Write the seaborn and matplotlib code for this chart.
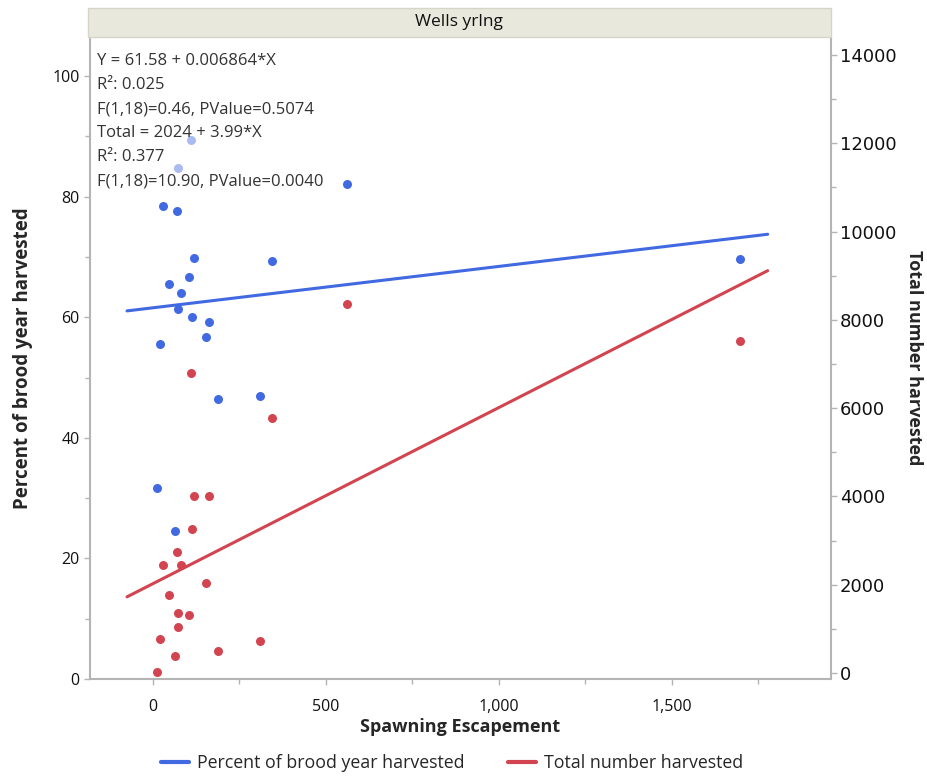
import numpy as np
import pandas as pd
import seaborn as sns
import matplotlib.pyplot as plt
from matplotlib.patches import Rectangle
from matplotlib.lines import Line2D
from matplotlib.ticker import MultipleLocator, FuncFormatter

# data
escapement = [11, 21, 30, 47, 64, 69, 73, 73, 82, 103,
              109, 114, 118, 152, 163, 187, 310, 345, 560, 1697]
pct_harvested = [31.7, 55.6, 78.4, 65.5, 24.5, 77.6, 84.7, 61.4, 64.0, 66.7,
                 89.4, 60.1, 69.8, 56.8, 59.3, 46.5, 46.9, 69.3, 82.1, 69.7]
total_harvested = [29, 770, 2453, 1774, 385, 2748, 1352, 1042, 2446, 1321,
                   6802, 3255, 4016, 2046, 4016, 505, 732, 5776, 8351, 7520]

# fitted lines (from the chart's regression text)
pct_fit = (61.58, 0.006864)
total_fit = (2024, 3.99)
fit_x = [-75, 1777]

fit_text = ["Y = 61.58 + 0.006864*X", "R\u00b2: 0.025", "F(1,18)=0.46, PValue=0.5074",
            "Total = 2024 + 3.99*X", "R\u00b2: 0.377", "F(1,18)=10.90, PValue=0.0040"]

blue = "#4169E1"
red = "#D2444F"
grey = "#B4B4B4"

df = pd.DataFrame({"x": escapement, "pct": pct_harvested, "total": total_harvested})
fx = np.array(fit_x, dtype=float)
fits = pd.DataFrame({"x": fx,
                     "pct": pct_fit[0] + pct_fit[1] * fx,
                     "total": total_fit[0] + total_fit[1] * fx})

sns.set_theme(style="white")
plt.rcParams['font.family'] = ['Open Sans', 'DejaVu Sans']

fig = plt.figure(figsize=(9.27, 7.76), dpi=100)
ax = fig.add_axes([90/927, 1-679/776, 741/927, 642/776])
ax2 = ax.twinx()

sns.lineplot(data=fits, x="x", y="pct", ax=ax, color=blue, lw=2.2, zorder=2)
sns.scatterplot(data=df, x="x", y="pct", ax=ax, color=blue, s=42, linewidth=0, zorder=3)
sns.lineplot(data=fits, x="x", y="total", ax=ax2, color=red, lw=2.2, zorder=2)
sns.scatterplot(data=df, x="x", y="total", ax=ax2, color=red, s=42, linewidth=0, zorder=3)

ax.set_xlim(-182, 1960)
ax.set_ylim(0, 106.5)
ax2.set_ylim(-136, 14408)

ax.xaxis.set_major_locator(MultipleLocator(500))
ax.xaxis.set_minor_locator(MultipleLocator(250))
ax.xaxis.set_major_formatter(FuncFormatter(lambda v, p: f"{v:,.0f}"))
ax.yaxis.set_major_locator(MultipleLocator(20))
ax.yaxis.set_minor_locator(MultipleLocator(10))
ax2.yaxis.set_major_locator(MultipleLocator(2000))
ax2.yaxis.set_minor_locator(MultipleLocator(1000))

for a in (ax, ax2):
    for s in a.spines.values():
        s.set_color(grey)
        s.set_linewidth(1.5)
    a.spines['top'].set_visible(False)
ax.spines['right'].set_visible(False)
ax2.spines['left'].set_visible(False)
ax2.spines['bottom'].set_visible(False)

ax.tick_params(axis='both', which='major', direction='out', length=4.5, width=1, color=grey,
               labelsize=11.5, labelcolor='#111111', left=True, bottom=True, pad=3)
ax.tick_params(axis='x', which='major', pad=10)
ax.tick_params(axis='both', which='minor', direction='out', length=3.5, width=1, color=grey,
               left=True, bottom=True)
ax2.tick_params(axis='y', which='major', direction='out', length=4.5, width=1, color=grey,
                labelsize=13, labelcolor='#111111', right=True, pad=2)
ax2.tick_params(axis='y', which='minor', direction='out', length=3.5, width=1, color=grey, right=True)
for lbl in ax2.get_yticklabels():
    lbl.set_family('DejaVu Sans')

ax.set_xlabel("Spawning Escapement", fontsize=13, fontweight='bold', labelpad=2)
ax.set_ylabel("Percent of brood year harvested", fontsize=13.5, fontweight='bold', labelpad=14)
ax2.set_ylabel("Total number harvested", fontsize=13, fontweight='bold', rotation=270, labelpad=19)

# translucent panel behind the fit text
ax2.add_patch(Rectangle((0.003, 0.754), 0.315, 0.2305, transform=ax2.transAxes,
                        facecolor='white', alpha=0.55, edgecolor='none', zorder=5))
for i, t in enumerate(fit_text):
    ax2.text(0.0094, (679-61)/642 - i*24/642, t, transform=ax2.transAxes, fontsize=12,
             color='#333333', va='center', ha='left', zorder=6)

# header strip
fig.add_artist(Rectangle((88/927, 1-37/776), 743/927, 29/776, transform=fig.transFigure,
                         facecolor='#E8E8DD', edgecolor='#D6D6C8', lw=1))
fig.text(459/927, 1-22/776, "Wells yrlng", ha='center', va='center', fontsize=12.5, color='#111111')

handles = [Line2D([], [], color=blue, lw=3), Line2D([], [], color=red, lw=3)]
fig.legend(handles, ["Percent of brood year harvested", "Total number harvested"],
           loc='center', bbox_to_anchor=(452/927, 1-763/776), ncol=2, frameon=False,
           fontsize=12.8, handlelength=1.6, handletextpad=0.45, columnspacing=2.4)

fig.savefig("out.png", dpi=100)
